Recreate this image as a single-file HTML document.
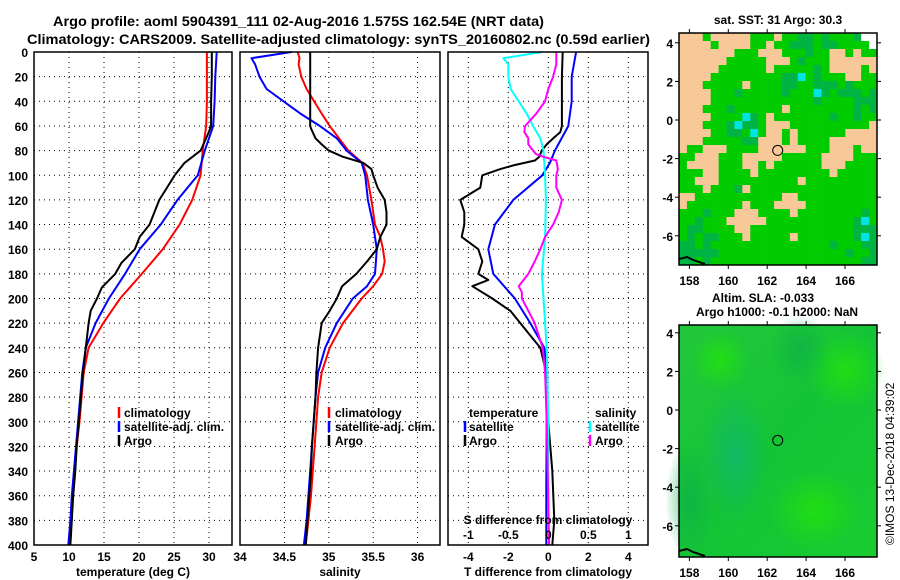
<!DOCTYPE html>
<html><head><meta charset="utf-8"><style>
html,body{margin:0;padding:0;background:#fff;}
svg{display:block;font-family:"Liberation Sans",Arial,sans-serif;font-weight:bold;}
</style></head><body>
<svg id="fig" width="900" height="580" viewBox="0 0 900 580" xmlns="http://www.w3.org/2000/svg">
<text x="53" y="26" font-size="14" textLength="491" lengthAdjust="spacingAndGlyphs">Argo profile: aoml 5904391_111 02-Aug-2016 1.575S 162.54E (NRT data)</text>
<text x="27" y="44" font-size="14" textLength="623" lengthAdjust="spacingAndGlyphs">Climatology: CARS2009. Satellite-adjusted climatology: synTS_20160802.nc (0.59d earlier)</text>
<text x="778" y="24" font-size="12" text-anchor="middle">sat. SST: 31 Argo: 30.3</text>
<text x="763" y="302" font-size="12" text-anchor="middle">Altim. SLA: -0.033</text>
<text x="777" y="316" font-size="12" text-anchor="middle">Argo h1000: -0.1 h2000: NaN</text>
<text font-size="12" font-weight="normal" transform="translate(894,545) rotate(-90)">©IMOS 13-Dec-2018 04:39:02</text>
<g id="panels"></g>
</svg>
<script>
// ---------- data ----------
const tDepth=[0,20,40,60,80,100,120,140,160,180,200,220,240,260,280,300,320,340,360,380,400];
const tClim=[29.7,29.7,29.7,29.6,29.1,28.8,27.6,25.8,23.4,20.4,17.3,14.9,12.8,12.1,11.8,11.5,11.1,10.8,10.5,10.3,10.1];
const tSat=[31.1,30.9,30.8,30.6,29.4,28.4,25.5,23.1,20.1,18.0,15.7,13.8,12.4,11.9,11.6,11.3,11.0,10.7,10.4,10.2,9.9];
const tArgoDepth=[0,20,40,60,66,75,80,90,100,110,120,130,140,150,160,171,180,191,200,210,220,240,260,280,300,320,340,360,380,400];
const tArgo=[30.4,30.4,30.3,30.3,29.9,29.2,28.8,26.5,25.1,24.0,22.9,22.2,21.5,20.1,19.4,17.5,16.6,14.7,14.0,13.1,12.8,12.4,12.0,11.7,11.4,11.1,10.9,10.6,10.4,10.2];
const sClimDepth=[0,5,10,20,30,50,60,80,90,100,120,140,150,160,170,180,190,200,220,240,260,280,300,320,340,360,380,400];
const sClim=[34.65,34.67,34.66,34.69,34.75,34.92,35.01,35.22,35.38,35.43,35.48,35.52,35.58,35.61,35.63,35.6,35.5,35.37,35.16,35.01,34.92,34.88,34.86,34.84,34.82,34.8,34.77,34.74];
const sSatDepth=[0,5,10,20,30,40,50,60,70,80,90,100,120,140,160,180,190,200,220,240,260,280,300,320,340,360,380,400];
const sSat=[34.58,34.13,34.17,34.22,34.30,34.49,34.68,34.9,35.09,35.2,35.37,35.41,35.44,35.5,35.54,35.52,35.43,35.27,35.09,34.96,34.88,34.85,34.83,34.81,34.79,34.77,34.75,34.72];
const sArgoDepth=[0,60,62,70,75,80,85,90,95,100,110,120,130,140,150,160,170,180,190,200,210,220,240,260,280,300,320,340,360,380,400];
const sArgo=[34.79,34.79,34.8,34.85,34.92,35.0,35.16,35.39,35.48,35.5,35.55,35.63,35.65,35.65,35.58,35.54,35.43,35.31,35.15,35.09,35.01,34.92,34.88,34.86,34.85,34.83,34.81,34.8,34.78,34.76,34.74];
const dTSatDepth=[0,20,40,60,80,90,100,120,140,160,180,200,220,240,260,300,350,400];
const dTSat=[1.39,1.17,1.17,1.0,0.33,0.08,-0.3,-1.75,-2.67,-3.0,-2.75,-1.67,-0.9,-0.2,-0.05,-0.08,-0.1,-0.1];
const dTArgoDepth=[0,20,60,65,70,75,80,85,88,92,95,100,110,120,130,140,150,160,170,180,185,190,200,210,220,230,240,260,300,340,360,380,400];
const dTArgo=[0.72,0.68,0.68,0.6,0.25,-0.08,-0.33,-0.45,-0.67,-1.75,-2.4,-3.3,-3.4,-4.4,-4.2,-4.2,-4.33,-3.5,-3.3,-3.5,-3.0,-3.8,-2.8,-1.9,-1.4,-0.9,-0.4,-0.1,0,0.2,0.25,0.3,0.2];
const dSSatDepth=[0,5,10,20,30,40,50,60,70,80,100,120,150,180,200,240,300,400];
const dSSat=[-0.08,-0.56,-0.5,-0.5,-0.47,-0.37,-0.27,-0.19,-0.1,-0.06,-0.04,-0.03,-0.04,-0.08,-0.06,-0.02,0,0];
const dSArgoDepth=[0,10,20,30,40,50,55,60,65,70,75,80,83,85,88,95,100,110,120,130,140,150,160,170,180,190,195,200,220,240,260,300,400];
const dSArgo=[0.1,0.1,0.06,0,-0.04,-0.15,-0.22,-0.29,-0.3,-0.25,-0.25,-0.19,-0.15,-0.06,0.1,0.12,0.1,0.1,0.17,0.13,0.06,-0.04,-0.1,-0.17,-0.25,-0.37,-0.33,-0.33,-0.17,-0.07,-0.04,-0.02,0.01];
const depthTicks=[0,20,40,60,80,100,120,140,160,180,200,220,240,260,280,300,320,340,360,380,400];
const tTicks=[5,10,15,20,25,30];
const sTicks=[34,34.5,35,35.5,36];
const dTTicks=[-4,-2,0,2,4];
const dSTicks=[-1,-0.5,0,0.5,1];
const latTicks=[4,2,0,-2,-4,-6];
const lonTicks=[158,160,162,164,166];
const argoLon=162.54, argoLat=-1.575;
const sstRows=[
"tttgtttttgggtggddgdgggdww","ttttgttttggtggdddgddggggw","tttttttgggtttgggdggttgtgg","ttttttgggggtttgdgggtttttt",
"tttttggggggtgggggdgttttgt","ttttgggggggggddcgdgggttgg","tttgggggtggggddggdddgdggg","ttttgggdgggggdgggcdgdddgd",
"ttttgggggggggggggdggggddd","tttgggdggggggtggggggggdgd","ttttggggcdgtgggggggdggdgg","tttgggdcddgtttggggggggggt",
"ttttggddgcgttgtggggggtttt","tttgggggddtttgtggggtttttt","tggtttggggttttttgggtttgtt","ggtttgggtttttgggggttttggg",
"gttttgggttgtggggggtttgggg","gggttggggtgggggggggtggggg","ggtttggggggggggtggggggggg","gggtgggdtgggggggggggggggg",
"ttgggggggggggttgggggggggg","tgggggggtgggttttggggggggg","gggdgggtttggggtggggggggdg","ggdgggtttttgggggggggggdcg",
"gddggggttgggggggggggggddd","gdgddgggtgggggtgggggggdcd","ddgdgggggggggggggggdgggdd","dddddggggggggggggggggdggd","ddgdgggggggggggggggggggdd"];
const sstColors={t:"#f8c898",g:"#00cc00",d:"#00b444",c:"#00e4e4",w:"#ffffff"};

// ---------- helpers ----------
const NS="http://www.w3.org/2000/svg";
const root=document.getElementById('panels');
function mk(tag,attrs,parent){const e=document.createElementNS(NS,tag);for(const k in attrs)e.setAttribute(k,attrs[k]);(parent||root).appendChild(e);return e;}
const TOP=52,BOT=545;
function yD(d){return TOP+d*(BOT-TOP)/400;}
const xT=v=>34+(v-5)*7;
const xS=v=>240+(v-34)*88.8;
const xDT=v=>548.3+v*20;
const xDS=v=>548.3+v*80;

function panel(name,L,R,vticks,xf,labels){
  const g=mk('g',{});
  
  
  depthTicks.forEach(d=>{if(d>0&&d<400){const l=mk('line',{x1:L,x2:R,y1:yD(d),y2:yD(d),stroke:'#000','stroke-width':1,'stroke-dasharray':'1,4'},g);
    }});
  vticks.forEach(v=>{const x=xf(v);if(x>L+1&&x<R-1){const l=mk('line',{x1:x,x2:x,y1:TOP,y2:BOT,stroke:'#000','stroke-width':1,'stroke-dasharray':'1,4'},g);
    }});
  if(labels){vticks.forEach(v=>{const t=mk('text',{x:xf(v),y:561,'font-size':12,'text-anchor':'middle'},g);t.textContent=String(v);
    });}
  return g;
}
function frame(name,L,R){const r=mk('rect',{x:L,y:TOP,width:R-L,height:BOT-TOP,fill:'none',stroke:'#000','stroke-width':1.5});
  }
function series(name,depths,vals,xf,color,w){
  const pts=depths.map((d,i)=>xf(vals[i]).toFixed(1)+','+yD(d).toFixed(1)).join(' ');
  const p=mk('polyline',{points:pts,fill:'none',stroke:color,'stroke-width':w||2,'stroke-linejoin':'round'});
  
}
function txt(name,x,y,s,size,anchor){const t=mk('text',{x:x,y:y,'font-size':size||12,'text-anchor':anchor||'start'});t.textContent=s;
  return t;}
function legMark(name,x,y,color){const l=mk('line',{x1:x,x2:x,y1:y-6,y2:y+5,stroke:color,'stroke-width':2.5});
  }

// depth labels
depthTicks.forEach(d=>{txt('depth-tick-label',28,yD(d)+5,String(d),12,'end');});

// panel 1 temperature
panel('temperature-panel',34,232,tTicks,xT,true);
series('temperature-climatology-line',tDepth,tClim,xT,'#ff0000');
series('temperature-satellite-line',tDepth,tSat,xT,'#0000ff');
series('temperature-argo-line',tArgoDepth,tArgo,xT,'#000000');
frame('temperature-panel-frame',34,232);
txt('temperature-axis-title',133,576,'temperature (deg C)',12,'middle');
legMark('legend-climatology-mark',119,413,'#ff0000');txt('legend-climatology',124,417,'climatology');
legMark('legend-satellite-mark',119,427,'#0000ff');txt('legend-satellite-adj',124,431,'satellite-adj. clim.');
legMark('legend-argo-mark',119,441,'#000000');txt('legend-argo',124,445,'Argo');

// panel 2 salinity
panel('salinity-panel',240,440,sTicks,xS,true);
series('salinity-climatology-line',sClimDepth,sClim,xS,'#ff0000');
series('salinity-satellite-line',sSatDepth,sSat,xS,'#0000ff');
series('salinity-argo-line',sArgoDepth,sArgo,xS,'#000000');
frame('salinity-panel-frame',240,440);
txt('salinity-axis-title',340,576,'salinity',12,'middle');
legMark('legend-climatology-mark',329,413,'#ff0000');txt('legend-climatology',335,417,'climatology');
legMark('legend-satellite-mark',329,427,'#0000ff');txt('legend-satellite-adj',335,431,'satellite-adj. clim.');
legMark('legend-argo-mark',329,441,'#000000');txt('legend-argo',335,445,'Argo');

// panel 3 differences
panel('difference-panel',448,648,dTTicks,xDT,true);
series('t-diff-argo-line',dTArgoDepth,dTArgo,xDT,'#000000');
series('t-diff-satellite-line',dTSatDepth,dTSat,xDT,'#0000ff');
series('s-diff-satellite-line',dSSatDepth,dSSat,xDS,'#00ffff');
series('s-diff-argo-line',dSArgoDepth,dSArgo,xDS,'#ff00ff');
frame('difference-panel-frame',448,648);
dSTicks.forEach(v=>txt('s-diff-tick-label',xDS(v),539,String(v),12,'middle'));
txt('s-diff-axis-title',548,524,'S difference from climatology',12,'middle');
txt('t-diff-axis-title',548,576,'T difference from climatology',12,'middle');
txt('legend-temperature-header',469,417,'temperature');
txt('legend-salinity-header',595,417,'salinity');
legMark('legend-t-satellite-mark',465,427,'#0000ff');txt('legend-t-satellite',469,431,'satellite');
legMark('legend-t-argo-mark',465,441,'#000000');txt('legend-t-argo',469,445,'Argo');
legMark('legend-s-satellite-mark',590,427,'#00ffff');txt('legend-s-satellite',595,431,'satellite');
legMark('legend-s-argo-mark',590,441,'#ff00ff');txt('legend-s-argo',595,445,'Argo');

// ---------- maps ----------
function mapAxes(name,top,bot,lat0y){
  const L=679,R=877;
  const lonX=lon=>728.3+(lon-160)*19.45;
  const latY=lat=>lat0y-lat*19.3;
  const f=mk('rect',{x:L,y:top,width:R-L,height:bot-top,fill:'none',stroke:'#000','stroke-width':1.5});
  
  latTicks.forEach(la=>{const y=latY(la);
    mk('line',{x1:L-4,x2:L,y1:y,y2:y,stroke:'#000'});mk('line',{x1:R,x2:R+4,y1:y,y2:y,stroke:'#000'});
    txt(name+'-lat-label',673,y+5,String(la),12,'end');});
  lonTicks.forEach(lo=>{const x=lonX(lo);
    mk('line',{x1:x,x2:x,y1:top-4,y2:top,stroke:'#000'});mk('line',{x1:x,x2:x,y1:bot,y2:bot+4,stroke:'#000'});
    txt(name+'-lon-label',x,bot+20,String(lo),12,'middle');});
  const c=mk('circle',{cx:lonX(argoLon),cy:latY(argoLat),r:5,fill:'none',stroke:'#000','stroke-width':1});
  
  const coast=mk('polyline',{points:`${L},${bot-6} ${L+8},${bot-8} ${L+14},${bot-5} ${L+20},${bot-3} ${L+26},${bot-1}`,fill:'none',stroke:'#000','stroke-width':2});
  
}
// SST map
const sstTop=33,sstBot=265,mL=679,mR=877;
const sg=mk('g',{});


const cw=(mR-mL)/sstRows[0].length, ch=(sstBot-sstTop)/sstRows.length;
sstRows.forEach((row,r)=>{for(let c=0;c<row.length;c++){
  const cell=mk('rect',{x:(mL+c*cw).toFixed(2),y:(sstTop+r*ch).toFixed(2),width:(cw+0.3).toFixed(2),height:(ch+0.3).toFixed(2),fill:sstColors[row[c]]},sg);
  
  
}});
mapAxes('sst-map',sstTop,sstBot,120);

// SLA map
const slaTop=325,slaBot=557;
const defs=mk('defs',{});
defs.innerHTML='<linearGradient id="slaBase" x1="0" y1="0" x2="1" y2="1"><stop offset="0" stop-color="#22c83a"/><stop offset="0.5" stop-color="#14c436"/><stop offset="1" stop-color="#18cc30"/></linearGradient>'+
 '<radialGradient id="blobA"><stop offset="0" stop-color="#10b868" stop-opacity="0.9"/><stop offset="1" stop-color="#10b868" stop-opacity="0"/></radialGradient>'+
 '<radialGradient id="blobB"><stop offset="0" stop-color="#22e010" stop-opacity="0.9"/><stop offset="1" stop-color="#22e010" stop-opacity="0"/></radialGradient>'+
 '<radialGradient id="blobC"><stop offset="0" stop-color="#0cae48" stop-opacity="0.7"/><stop offset="1" stop-color="#0cae48" stop-opacity="0"/></radialGradient>';
const slg=mk('g',{});


mk('rect',{x:mL,y:slaTop,width:mR-mL,height:slaBot-slaTop,fill:'url(#slaBase)'},slg);
mk('ellipse',{cx:735,cy:455,rx:35,ry:70,fill:'url(#blobA)'},slg);
mk('ellipse',{cx:690,cy:500,rx:25,ry:60,fill:'url(#blobC)'},slg);
mk('ellipse',{cx:815,cy:510,rx:45,ry:40,fill:'url(#blobB)'},slg);
mk('ellipse',{cx:845,cy:370,rx:40,ry:40,fill:'url(#blobB)'},slg);
mk('ellipse',{cx:800,cy:350,rx:30,ry:35,fill:'url(#blobC)'},slg);
mk('ellipse',{cx:720,cy:360,rx:30,ry:30,fill:'url(#blobB)'},slg);
mapAxes('sla-map',slaTop,slaBot,410);
</script>
</body></html>
